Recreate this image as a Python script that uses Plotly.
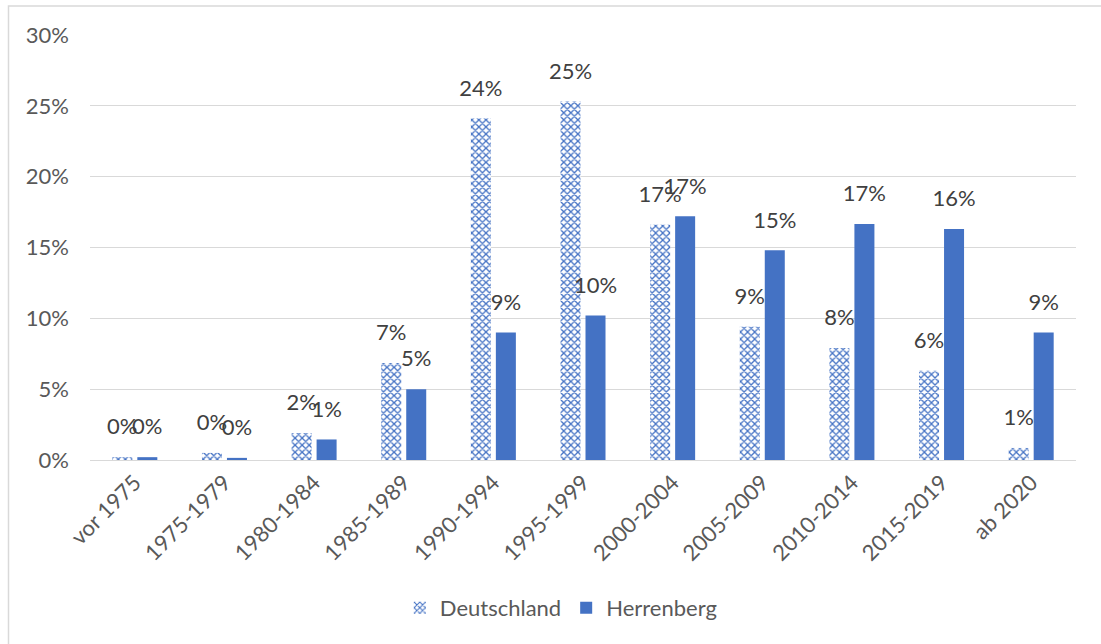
import plotly.graph_objects as go

categories = ["vor 1975", "1975-1979", "1980-1984", "1985-1989", "1990-1994", "1995-1999",
              "2000-2004", "2005-2009", "2010-2014", "2015-2019", "ab 2020"]
deutschland = [0.002, 0.005, 0.019, 0.0685, 0.241, 0.253, 0.166, 0.094, 0.079, 0.063, 0.0085]
herrenberg = [0.002, 0.0015, 0.0145, 0.050, 0.090, 0.102, 0.172, 0.148, 0.1665, 0.163, 0.090]
y_ticks = [0, 0.05, 0.10, 0.15, 0.20, 0.25, 0.30]

BLUE = "#4472C4"
FONT = "Lato"
GAP = 0.442
FS = 22

fig = go.Figure()
fig.add_trace(go.Bar(
    x=categories, y=deutschland, name="Deutschland", offsetgroup="D",
    marker=dict(color="white", line=dict(width=0),
                pattern=dict(shape="x", fgcolor=BLUE, bgcolor="white", size=5, solidity=0.45,
                             fillmode="replace")),
    hoverinfo="skip",
))
fig.add_trace(go.Bar(
    x=categories, y=herrenberg, name="Herrenberg", offsetgroup="H",
    marker=dict(color=BLUE, line=dict(width=0)),
    hoverinfo="skip",
))
for name, vals in (("D", deutschland), ("H", herrenberg)):
    fig.add_trace(go.Scatter(
        x=categories, y=vals, offsetgroup=name, mode="markers+text",
        text=[f"{round(v*100):.0f}%" for v in vals],
        textposition="top center",
        textfont=dict(family=FONT, size=FS, color="#404040"),
        marker=dict(size=26, opacity=0),
        showlegend=False, hoverinfo="skip", cliponaxis=False,
    ))

fig.update_layout(
    width=1101, height=644,
    margin=dict(l=90, r=25, t=35, b=184),
    paper_bgcolor="white", plot_bgcolor="white",
    barmode="group", bargap=GAP, bargroupgap=0.2,
    scattermode="group", scattergap=GAP,
    font=dict(family=FONT, color="#595959", size=FS),
    showlegend=True,
    legend=dict(orientation="h", x=0.478, xanchor="center", y=-0.348, yanchor="middle",
                font=dict(family=FONT, size=FS, color="#595959"), itemwidth=30),
    xaxis=dict(tickangle=-45, showgrid=False, showline=True, linecolor="#D9D9D9", linewidth=1,
               ticks="", tickfont=dict(family=FONT, size=FS, color="#595959")),
    yaxis=dict(range=[0, 0.30], tickvals=y_ticks, tickformat=".0%", showgrid=True,
               gridcolor="#D9D9D9", gridwidth=1, zeroline=False, showline=False,
               ticks="", ticklabelstandoff=20,
               tickfont=dict(family=FONT, size=FS, color="#595959")),
    shapes=[dict(type="rect", xref="paper", yref="paper",
                 x0=(8.5 - 90) / 986, x1=1.05, y0=-0.46, y1=(460 - 6) / 425,
                 line=dict(color="#D9D9D9", width=1.5), fillcolor="rgba(0,0,0,0)", layer="below")],
)

fig.write_html("out.html")
